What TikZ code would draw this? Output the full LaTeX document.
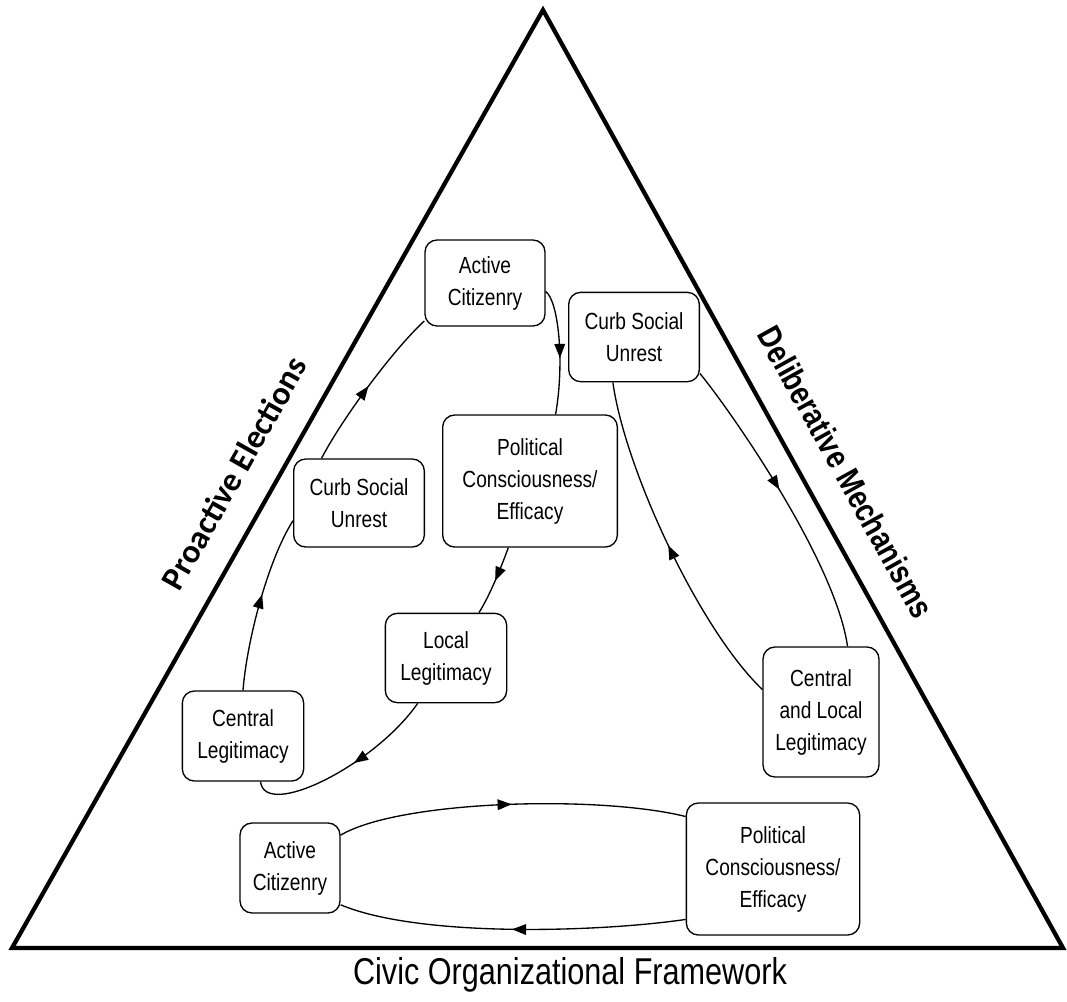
\documentclass[tikz,border=0pt]{standalone}
\usepackage{fontspec}
\setmainfont[FakeStretch=0.82]{Liberation Sans}
\newfontfamily\sidefont{Carlito}
\usetikzlibrary{arrows.meta,decorations.markings}

\begin{document}
\begin{tikzpicture}[x=0.75pt,y=-0.75pt,
    box/.style={
      draw,
      line width=1pt,
      rounded corners=9pt,
      align=center,
      inner sep=0pt,
      font=\fontsize{17.5}{24}\selectfont
    },
    flow/.style={
      line width=1pt,
      postaction={decorate},
      decoration={markings,
        mark=at position #1 with {\arrow{Triangle[length=10.5pt,width=8pt]}}}
    },
    flow/.default=0.5,
    side/.style={line width=3.2pt, line join=miter}
  ]

  \useasboundingbox (0,0) rectangle (1067,1001);

  % outer triangle
  \coordinate (apex) at (543,10);
  \coordinate (bl)   at (12,948);
  \coordinate (br)   at (1063,948);
  \draw[side] (apex) -- (bl) -- (br) -- cycle;

  \node[font=\sidefont\bfseries\fontsize{25}{30}\selectfont, rotate=60.5]
    (elect) at (234,473) {Proactive Elections};
  \node[font=\bfseries\fontsize{25}{30}\selectfont, rotate=-61]
    (delib) at (846,472) {Deliberative Mechanisms};
  \node[font=\fontsize{28}{33}\selectfont] (civic) at (570,975)
    {Civic Organizational Framework};

  % left loop
  \node[box, minimum width=90pt,  minimum height=64.5pt] (ac1) at (485,283) {Active\\Citizenry};
  \node[box, minimum width=131pt, minimum height=99pt]   (pc1) at (530,481) {Political\\Consciousness/\\Efficacy};
  \node[box, minimum width=98pt,  minimum height=66pt]   (cs1) at (359,503) {Curb Social\\Unrest};
  \node[box, minimum width=91pt,  minimum height=67pt]   (ll)  at (446,658) {Local\\Legitimacy};
  \node[box, minimum width=91pt,  minimum height=67.5pt] (cl)  at (243,736) {Central\\Legitimacy};

  % right loop
  \node[box, minimum width=98pt,  minimum height=67pt]   (cs2) at (634,337) {Curb Social\\Unrest};
  \node[box, minimum width=87pt,  minimum height=97.5pt] (cll) at (821,712) {Central\\and Local\\Legitimacy};

  % bottom loop
  \node[box, minimum width=75pt,  minimum height=67.5pt] (ac2) at (290,868) {Active\\Citizenry};
  \node[box, minimum width=130pt, minimum height=99pt]   (pc2) at (773,869) {Political\\Consciousness/\\Efficacy};

  \draw[flow=0.55] (cl.north) .. controls (247,640) and (268,560) .. (cs1.195);
  \draw[flow]      (cs1.130) .. controls (342,419) and (392,351) .. (ac1.212);
  \draw[flow=0.55] (ac1.-8) .. controls (558,300) and (565,360) .. (pc1.69);
  \draw[flow]      (pc1.252) .. controls (500,570) and (490,595) .. (ll.54);
  \draw[flow=0.45] (ll.238) .. controls (375,765) and (265,820) .. (cl.-69);

  \draw[flow=0.45] (cs2.-29) .. controls (730,410) and (835,560) .. (cll.68);
  \draw[flow]      (cll.159) .. controls (700,630) and (625,470) .. (cs2.245);

  \draw[flow] (ac2.33) .. controls (400,800) and (600,795) .. (pc2.149);
  \draw[flow] (pc2.210) .. controls (600,932) and (420,938) .. (ac2.-36);

\end{tikzpicture}
\end{document}
